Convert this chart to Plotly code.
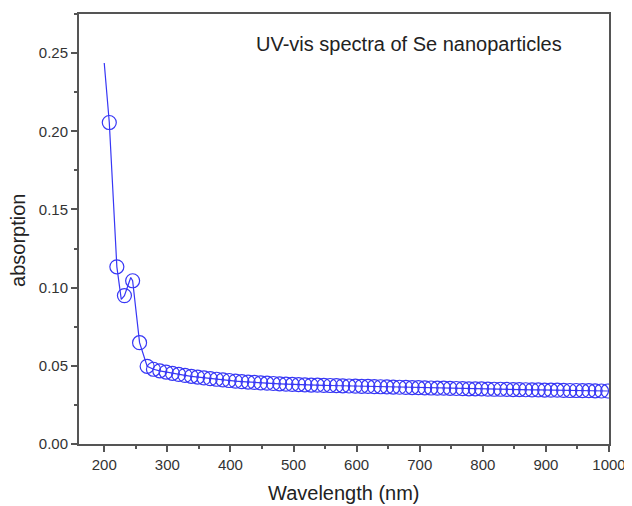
import plotly.graph_objects as go

wavelength = [208, 220, 232, 245, 256, 268, 278, 288, 298, 308, 318, 328, 338, 348, 358,
              368, 378, 388, 398, 408, 418, 428, 438, 448, 458, 468, 478, 488, 498, 508,
              518, 528, 538, 548, 558, 568, 578, 588, 598, 608, 618, 628, 638, 648, 658,
              668, 678, 688, 698, 708, 718, 728, 738, 748, 758, 768, 778, 788, 798, 808,
              818, 828, 838, 848, 858, 868, 878, 888, 898, 908, 918, 928, 938, 948, 958,
              968, 978, 988, 998]
absorption = [0.2056, 0.1133, 0.0949, 0.1044, 0.0648, 0.0497, 0.0478, 0.0468, 0.0460, 0.0452,
              0.0445, 0.0439, 0.0433, 0.0428, 0.0423, 0.0418, 0.0414, 0.0410, 0.0406, 0.0402,
              0.0399, 0.0396, 0.0394, 0.0391, 0.0389, 0.0387, 0.0385, 0.0383, 0.0381, 0.0380,
              0.0378, 0.0377, 0.0376, 0.0375, 0.0374, 0.0373, 0.0372, 0.0371, 0.0370, 0.0369,
              0.0368, 0.0367, 0.0366, 0.0365, 0.0364, 0.0363, 0.0362, 0.0361, 0.0360, 0.0359,
              0.0358, 0.0357, 0.0357, 0.0356, 0.0355, 0.0354, 0.0353, 0.0353, 0.0352, 0.0351,
              0.0350, 0.0350, 0.0349, 0.0348, 0.0348, 0.0347, 0.0346, 0.0346, 0.0345, 0.0344,
              0.0344, 0.0343, 0.0342, 0.0342, 0.0341, 0.0341, 0.0340, 0.0339, 0.0339]

# Continuous line data (start of the curve, dip and peak)
line_wavelength = [200, 204, 208, 220, 227, 232, 242, 245, 256, 268]
line_absorption = [0.2437, 0.2240, 0.2056, 0.1133, 0.0925, 0.0949, 0.1065, 0.1044, 0.0648, 0.0497]

x_ticks = [200, 300, 400, 500, 600, 700, 800, 900, 1000]
y_ticks = [0.00, 0.05, 0.10, 0.15, 0.20, 0.25]

title_text = "UV-vis spectra of Se nanoparticles"
x_title = "Wavelength (nm)"
y_title = "absorption"

blue = "rgb(55,55,245)"
axis_col = "#555555"
text_col = "#333333"
font_family = "Liberation Sans, Arial, sans-serif"

fig = go.Figure()
fig.add_trace(go.Scatter(
    x=line_wavelength + wavelength[6:], y=line_absorption + absorption[6:],
    mode="lines", line=dict(color=blue, width=1.2), showlegend=False, hoverinfo="skip"))
fig.add_trace(go.Scatter(
    x=wavelength, y=absorption, mode="markers",
    marker=dict(symbol="circle-open", size=14, color=blue, line=dict(color=blue, width=1.2)),
    showlegend=False))

axis_common = dict(
    showline=True, linecolor=axis_col, linewidth=2, mirror=True,
    showgrid=False, zeroline=False,
    ticks="outside", ticklen=6, tickwidth=1.5, tickcolor=axis_col,
    tickfont=dict(family=font_family, size=15, color=text_col),
)

fig.update_xaxes(range=[160, 1000], tickvals=x_ticks, ticktext=[str(v) for v in x_ticks],
                 minor=dict(dtick=50, tick0=150, ticks="outside", ticklen=3, tickcolor=axis_col, tickwidth=1.5),
                 **axis_common)
fig.update_yaxes(range=[0, 0.275], tickvals=y_ticks, ticktext=[f"{v:.2f}" for v in y_ticks],
                 minor=dict(dtick=0.025, tick0=0, ticks="outside", ticklen=3, tickcolor=axis_col, tickwidth=1.5),
                 **axis_common)

# The page body adds an 8 px offset; margins compensate so the plot area
# sits at x 79..609, y 12..444 in the window.
fig.update_layout(
    width=632, height=506,
    margin=dict(l=71, r=31, t=4, b=70),
    plot_bgcolor="white", paper_bgcolor="white",
    annotations=[
        dict(text=title_text, x=0.622, y=(444 - 42) / 432, xref="paper", yref="paper",
             showarrow=False, font=dict(family=font_family, size=20, color="#222222"),
             xanchor="center", yanchor="middle"),
        dict(text=x_title, x=0.5, y=-(493 - 444) / 432, xref="paper", yref="paper",
             showarrow=False, font=dict(family=font_family, size=20, color="#222222"),
             xanchor="center", yanchor="middle"),
        dict(text=y_title, x=-(79 - 18) / 530, y=(444 - 240) / 432, xref="paper", yref="paper",
             showarrow=False, textangle=-90, font=dict(family=font_family, size=20, color="#222222"),
             xanchor="center", yanchor="middle"),
    ],
)

fig.write_html("out.html")
